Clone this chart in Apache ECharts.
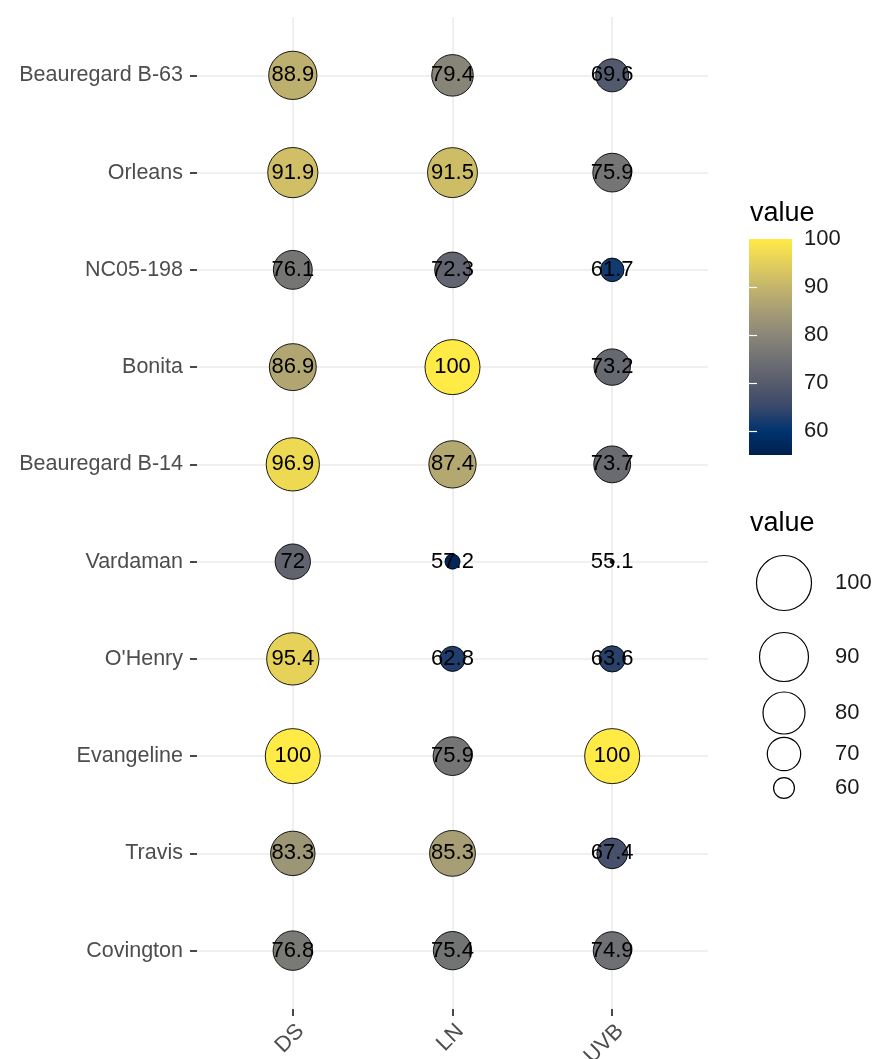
<!DOCTYPE html>
<html>
<head>
<meta charset="utf-8">
<script src="https://cdn.jsdelivr.net/npm/echarts@6/dist/echarts.min.js"></script>
<style>
html,body{margin:0;padding:0;background:#fff;}
#chart{width:872px;height:1059px;}
</style>
</head>
<body>
<div id="chart"></div>
<script>
// ---- data ----
const varieties = ["Beauregard B-63", "Orleans", "NC05-198", "Bonita", "Beauregard B-14",
                   "Vardaman", "O'Henry", "Evangeline", "Travis", "Covington"];
const traits = ["DS", "LN", "UVB"];
const dsValues  = [88.9, 91.9, 76.1, 86.9, 96.9, 72, 95.4, 100, 83.3, 76.8];
const lnValues  = [79.4, 91.5, 72.3, 100, 87.4, 57.2, 62.8, 75.9, 85.3, 75.4];
const uvbValues = [69.6, 75.9, 61.7, 73.2, 73.7, 55.1, 63.6, 100, 67.4, 74.9];
const colorbarTicks = [60, 70, 80, 90, 100];
const sizeLegendValues = [100, 90, 80, 70, 60];

// ---- styling helpers ----
const cividis = ["#00204D", "#00336F", "#39486B", "#575C6D", "#707173",
                 "#8A8779", "#A69D75", "#C4B56C", "#E4CF5B", "#FFEA46"];
const FONT = "'Liberation Sans', Arial, sans-serif";
const seriesByTrait = [dsValues, lnValues, uvbValues];
const allValues = [].concat(dsValues, lnValues, uvbValues);
const vMin = Math.min.apply(null, allValues);
const vMax = Math.max.apply(null, allValues);
function sizeOf(v) {
  return 4 + 51 * Math.sqrt(Math.max(0, (v - vMin) / (vMax - vMin)));
}

const points = [];
traits.forEach(function (t, xi) {
  seriesByTrait[xi].forEach(function (v, yi) { points.push([xi, yi, v]); });
});

// legend layout (positions only)
const sizeLegendY = [583, 657, 713, 754, 788];
const sizeLegendX = 784;
const graphics = [
  { type: 'text', left: 750, top: 200, style: { text: 'value', font: '27px ' + FONT, fill: '#000' } },
  { type: 'text', left: 750, top: 510, style: { text: 'value', font: '27px ' + FONT, fill: '#000' } }
];
sizeLegendValues.forEach(function (v, i) {
  graphics.push({ type: 'circle', shape: { cx: sizeLegendX, cy: sizeLegendY[i], r: sizeOf(v) / 2 },
    style: { fill: 'rgba(0,0,0,0)', stroke: '#000', lineWidth: 1.2 } });
  graphics.push({ type: 'text', x: 835, y: sizeLegendY[i],
    style: { text: String(v), font: '22px ' + FONT, fill: '#1a1a1a', textVerticalAlign: 'middle', textAlign: 'left' } });
});

const gradientStops = cividis.map(function (c, i) { return { offset: i / (cividis.length - 1), color: c }; });
const hiddenLine = { show: true, onZero: false, lineStyle: { color: 'rgba(0,0,0,0)', width: 0 } };
const traitIdx = traits.map(function (t, i) { return i; });
const varietyIdx = varieties.map(function (t, i) { return i; });

const chart = echarts.init(document.getElementById('chart'), null, { renderer: 'canvas' });
chart.setOption({
  backgroundColor: '#fff',
  animation: false,
  textStyle: { fontFamily: FONT },
  grid: [
    { left: 197, right: 164, top: 17, bottom: 50, containLabel: false, outerBoundsMode: 'none' },
    { left: 749, top: 239, width: 43, height: 216, containLabel: false, outerBoundsMode: 'none' }
  ],
  xAxis: [
    {
      gridIndex: 0, type: 'value', min: -0.6, max: traits.length - 0.4,
      axisLine: hiddenLine,
      axisTick: { show: true, length: 7, lineStyle: { color: '#1a1a1a', width: 1.6 }, customValues: traitIdx },
      axisLabel: { customValues: traitIdx, formatter: function (v) { return traits[Math.round(v)]; },
        rotate: 45, margin: 11, align: 'right', verticalAlign: 'top', color: '#4d4d4d', fontSize: 22, fontFamily: FONT },
      splitLine: { show: true, lineStyle: { color: '#ebebeb', width: 1.6 } }
    },
    { gridIndex: 1, type: 'value', min: 0, max: 1, show: false }
  ],
  yAxis: [
    {
      gridIndex: 0, type: 'value', min: -0.6, max: varieties.length - 0.4, inverse: true,
      axisLine: hiddenLine,
      axisTick: { show: true, length: 7, lineStyle: { color: '#1a1a1a', width: 1.6 }, customValues: varietyIdx },
      axisLabel: { customValues: varietyIdx, formatter: function (v) { return varieties[Math.round(v)]; },
        margin: 14, color: '#4d4d4d', fontSize: 21.5, fontFamily: FONT },
      splitLine: { show: true, lineStyle: { color: '#ebebeb', width: 1.6 } }
    },
    {
      gridIndex: 1, type: 'value', min: vMin, max: vMax, position: 'right', z: 10,
      axisLine: { show: false },
      axisTick: { show: true, inside: true, length: 8, customValues: colorbarTicks.slice(0, -1), lineStyle: { color: '#fff', width: 1.2 } },
      axisLabel: { customValues: colorbarTicks, margin: 12, color: '#1a1a1a', fontSize: 22, fontFamily: FONT },
      splitLine: { show: false }
    },
    {
      gridIndex: 1, type: 'value', min: vMin, max: vMax, position: 'left', z: 10,
      axisLine: { show: false },
      axisTick: { show: true, inside: true, length: 8, customValues: colorbarTicks.slice(0, -1), lineStyle: { color: '#fff', width: 1.2 } },
      axisLabel: { show: false },
      splitLine: { show: false }
    }
  ],
  visualMap: {
    type: 'continuous', show: false, seriesIndex: 0, dimension: 2,
    min: vMin, max: vMax, inRange: { color: cividis }
  },
  series: [
    {
      type: 'scatter', xAxisIndex: 0, yAxisIndex: 0, z: 3,
      data: points,
      symbolSize: function (d) { return sizeOf(d[2]); },
      itemStyle: { borderColor: '#000', borderWidth: 0.9, opacity: 1 },
      label: { show: true, position: 'inside', formatter: function (p) { return String(p.data[2]); },
        color: '#000', fontSize: 22, fontFamily: FONT },
      labelLayout: { hideOverlap: false }
    },
    {
      type: 'custom', xAxisIndex: 1, yAxisIndex: 1, z: 2,
      data: [[0, vMin, 1, vMax]],
      renderItem: function (params, api) {
        const p0 = api.coord([api.value(0), api.value(1)]);
        const p1 = api.coord([api.value(2), api.value(3)]);
        return {
          type: 'rect',
          shape: { x: p0[0], y: p1[1], width: p1[0] - p0[0], height: p0[1] - p1[1] },
          style: { fill: new echarts.graphic.LinearGradient(0, 1, 0, 0, gradientStops) }
        };
      }
    }
  ],
  graphic: graphics
});
</script>
</body>
</html>
